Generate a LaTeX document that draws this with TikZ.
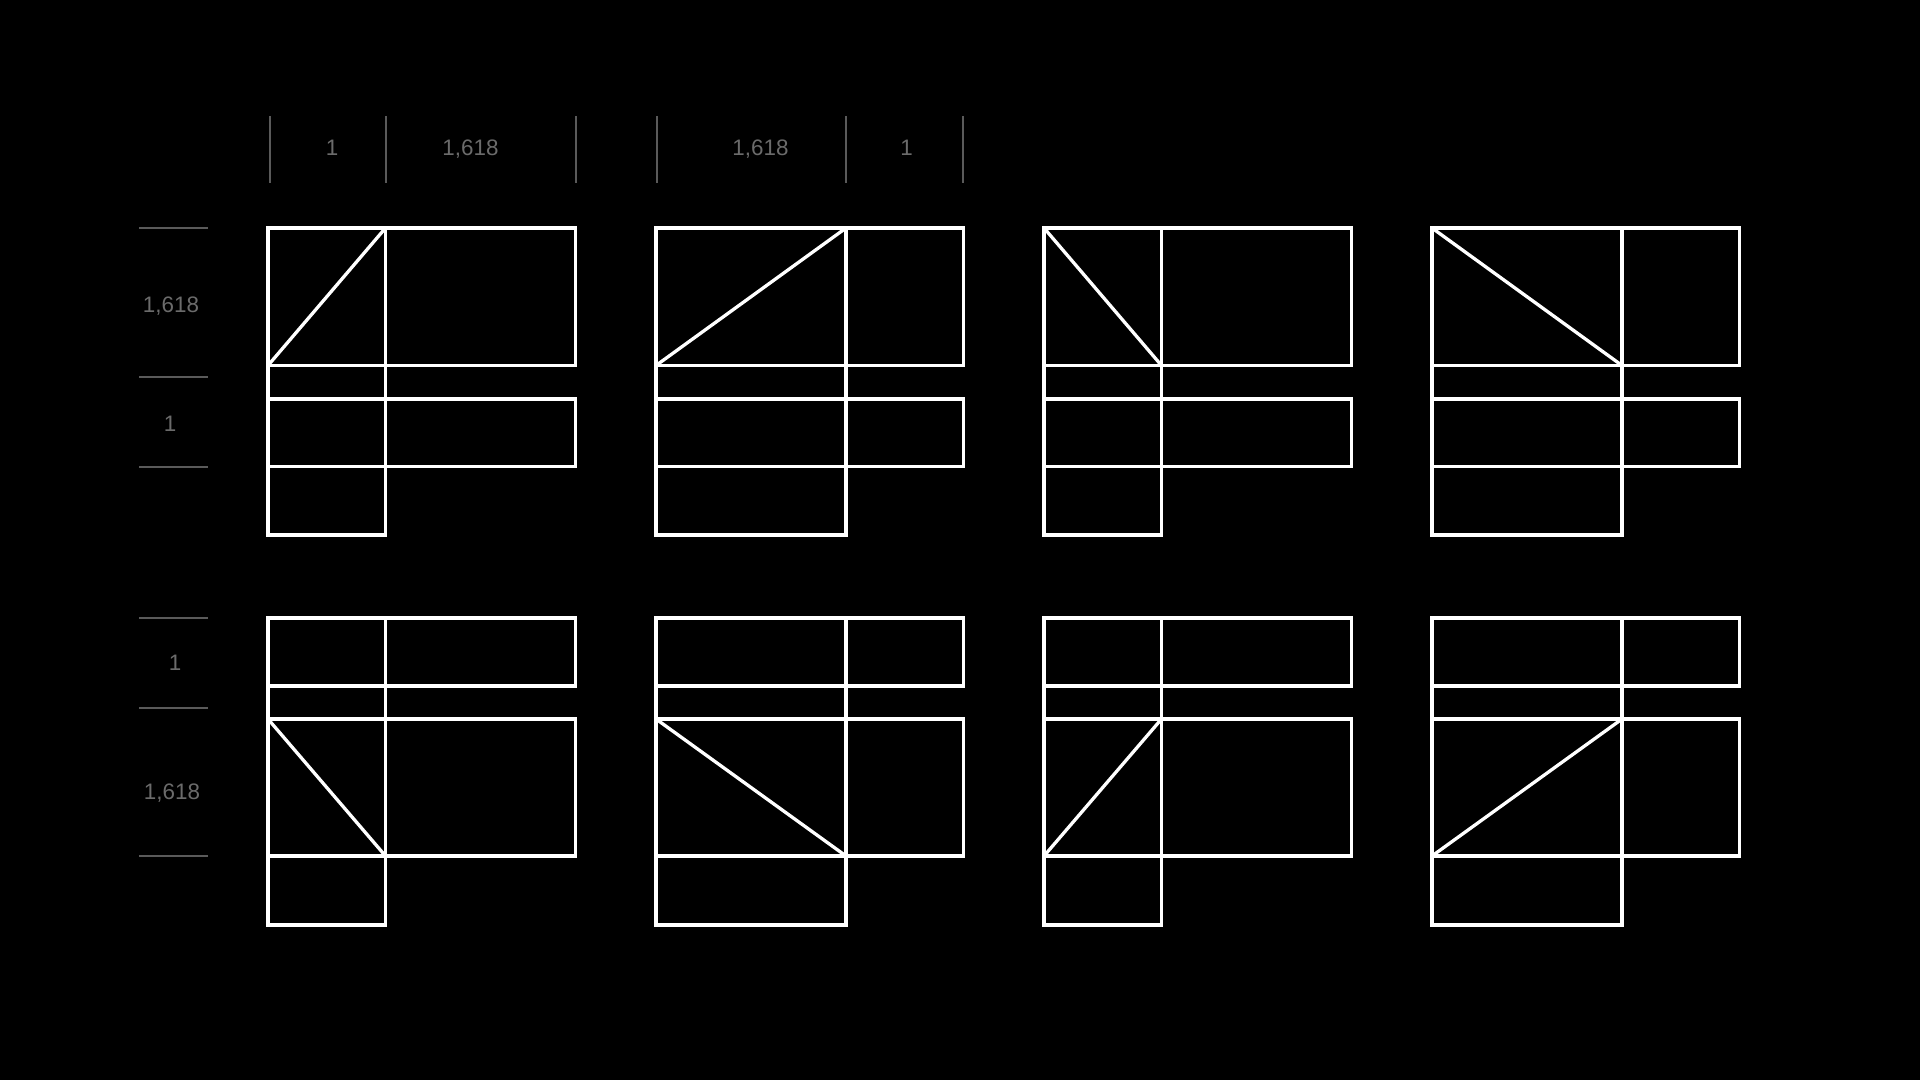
\documentclass[tikz,border=0pt]{standalone}
\usepackage{fontspec}
\setmainfont{Liberation Sans}
\usepackage{tikz}
\definecolor{rulegrey}{HTML}{5A5A5A}
\definecolor{labelgrey}{HTML}{6B6B6B}

\begin{document}
\begin{tikzpicture}[x=0.5pt, y=-0.5pt,
		box/.style={draw=white, line width=1.65pt},
		rule/.style={draw=rulegrey, line width=1pt},
		lbl/.style={text=labelgrey, font=\fontsize{11.2}{13}\selectfont, inner sep=0pt, text depth=0pt}]
		% Background
		\fill[black] (0,0) rectangle (1920,1080);
		\useasboundingbox (0,0) rectangle (1920,1080);

		% Top measures
		\draw[rule] (270,116) -- (270,183);
		\draw[rule] (386,116) -- (386,183);
		\draw[rule] (576,116) -- (576,183);
		\draw[rule] (657,116) -- (657,183);
		\draw[rule] (846,116) -- (846,183);
		\draw[rule] (963,116) -- (963,183);
		\node[lbl] (topA) at (332,148) {1};
		\node[lbl] (topB) at (470.5,148) {1,618};
		\node[lbl] (topC) at (760.5,148) {1,618};
		\node[lbl] (topD) at (906.5,148) {1};

		% Side measures
		\draw[rule] (139,228) -- (208,228);
		\draw[rule] (139,377) -- (208,377);
		\draw[rule] (139,467) -- (208,467);
		\draw[rule] (139,618) -- (208,618);
		\draw[rule] (139,708) -- (208,708);
		\draw[rule] (139,856) -- (208,856);
		\node[lbl] (sideA) at (171,305) {1,618};
		\node[lbl] (sideB) at (170,424) {1};
		\node[lbl] (sideC) at (175,663) {1};
		\node[lbl] (sideD) at (172,792) {1,618};

		% Top row
		\begin{scope}[shift={(268,0)}]
			\draw[box] (0,228) rectangle (307.5,365.5);
			\draw[box] (0,399) rectangle (307.5,466.5);
			\draw[box] (0,466.5) rectangle (117.5,535);
			\draw[box] (0,365.5) -- (0,399);
			\draw[box] (117.5,228) -- (117.5,535);
			\draw[box] (0,365.5) -- (117.5,228);
		\end{scope}
		\begin{scope}[shift={(656,0)}]
			\draw[box] (0,228) rectangle (307.5,365.5);
			\draw[box] (0,399) rectangle (307.5,466.5);
			\draw[box] (0,466.5) rectangle (190,535);
			\draw[box] (0,365.5) -- (0,399);
			\draw[box] (190,228) -- (190,535);
			\draw[box] (0,365.5) -- (190,228);
		\end{scope}
		\begin{scope}[shift={(1044,0)}]
			\draw[box] (0,228) rectangle (307.5,365.5);
			\draw[box] (0,399) rectangle (307.5,466.5);
			\draw[box] (0,466.5) rectangle (117.5,535);
			\draw[box] (0,365.5) -- (0,399);
			\draw[box] (117.5,228) -- (117.5,535);
			\draw[box] (0,228) -- (117.5,365.5);
		\end{scope}
		\begin{scope}[shift={(1432,0)}]
			\draw[box] (0,228) rectangle (307.5,365.5);
			\draw[box] (0,399) rectangle (307.5,466.5);
			\draw[box] (0,466.5) rectangle (190,535);
			\draw[box] (0,365.5) -- (0,399);
			\draw[box] (190,228) -- (190,535);
			\draw[box] (0,228) -- (190,365.5);
		\end{scope}

		% Bottom row
		\begin{scope}[shift={(268,0)}]
			\draw[box] (0,618) rectangle (307.5,686);
			\draw[box] (0,719) rectangle (307.5,856);
			\draw[box] (0,856) rectangle (117.5,925);
			\draw[box] (0,686) -- (0,719);
			\draw[box] (117.5,618) -- (117.5,925);
			\draw[box] (0,719) -- (117.5,856);
		\end{scope}
		\begin{scope}[shift={(656,0)}]
			\draw[box] (0,618) rectangle (307.5,686);
			\draw[box] (0,719) rectangle (307.5,856);
			\draw[box] (0,856) rectangle (190,925);
			\draw[box] (0,686) -- (0,719);
			\draw[box] (190,618) -- (190,925);
			\draw[box] (0,719) -- (190,856);
		\end{scope}
		\begin{scope}[shift={(1044,0)}]
			\draw[box] (0,618) rectangle (307.5,686);
			\draw[box] (0,719) rectangle (307.5,856);
			\draw[box] (0,856) rectangle (117.5,925);
			\draw[box] (0,686) -- (0,719);
			\draw[box] (117.5,618) -- (117.5,925);
			\draw[box] (0,856) -- (117.5,719);
		\end{scope}
		\begin{scope}[shift={(1432,0)}]
			\draw[box] (0,618) rectangle (307.5,686);
			\draw[box] (0,719) rectangle (307.5,856);
			\draw[box] (0,856) rectangle (190,925);
			\draw[box] (0,686) -- (0,719);
			\draw[box] (190,618) -- (190,925);
			\draw[box] (0,856) -- (190,719);
		\end{scope}
	\end{tikzpicture}
\end{document}
